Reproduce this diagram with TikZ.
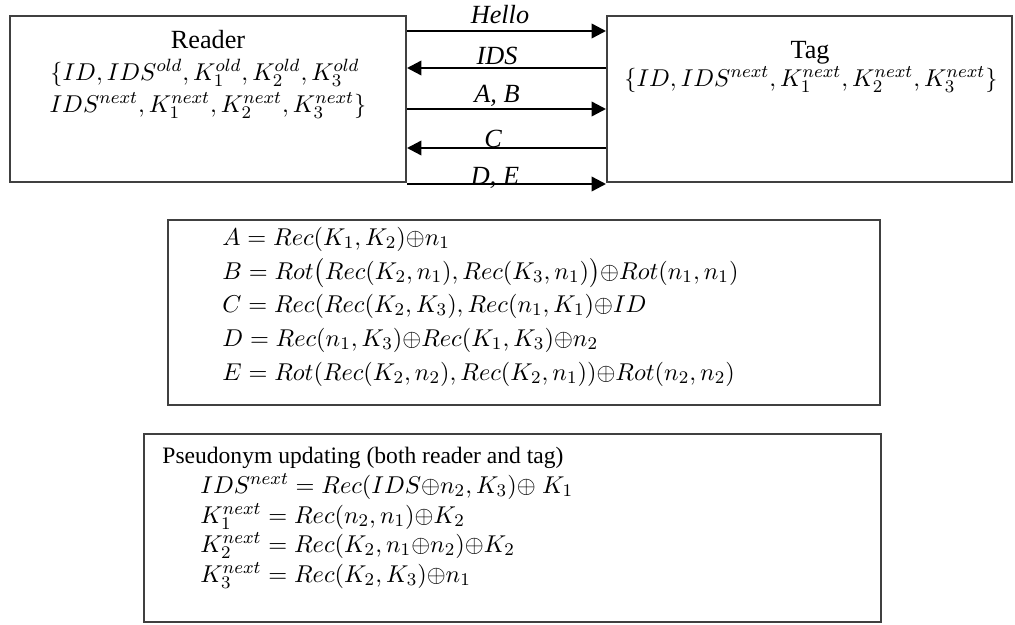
\documentclass[tikz,border=0pt]{standalone}
\usepackage{amsmath}
\usepackage{fontspec}
\setmainfont{Liberation Serif}
\usetikzlibrary{arrows.meta}
% tight exclusive-or, as typeset in the original equations
\newcommand{\xr}{{\oplus}}
\begin{document}
\begin{tikzpicture}[x=0.45pt,y=-0.45pt,
  frame/.style={draw=black!75,line width=0.9pt,rectangle,inner sep=0pt},
  msg/.style={line width=1.1pt,-{Triangle[length=6.5pt,width=6.5pt]}},
  lbl/.style={font=\fontsize{11.8}{14}\selectfont\itshape,inner sep=0pt,anchor=base},
  eq/.style={font=\fontsize{11.4}{14}\selectfont,anchor=base west,inner sep=0pt},
  hd/.style={font=\fontsize{11.8}{14}\selectfont,anchor=base,inner sep=0pt},
  st/.style={font=\fontsize{11.3}{14}\selectfont,anchor=base,inner sep=0pt},
  txt/.style={font=\fontsize{10.6}{13}\selectfont,anchor=base west,inner sep=0pt}]
\useasboundingbox (0,0) rectangle (1015,624);
% Reader and tag boxes
\node[frame,minimum width=396*0.45pt,minimum height=166*0.45pt] (reader) at (208,98.5) {};
\node[frame,minimum width=405*0.45pt,minimum height=166*0.45pt] (tag) at (809.5,98.5) {};
\node[hd] (rdtitle) at (208,48) {Reader};
\node[st] (rdset1) at (205,80) {$\{ID, IDS^{old}, K_1^{old}, K_2^{old}, K_3^{old}$};
\node[st] (rdset2) at (208,112) {$IDS^{next}, K_1^{next}, K_2^{next}, K_3^{next}\}$};
\node[hd] (tgtitle) at (810,58) {Tag};
\node[st] (tgset) at (811,86) {$\{ID, IDS^{next}, K_1^{next}, K_2^{next}, K_3^{next}\}$};
% message rows
\coordinate (m1) at (0,31);
\coordinate (m2) at (0,68);
\coordinate (m3) at (0,109);
\coordinate (m4) at (0,148);
\coordinate (m5) at (0,184);
\draw[msg] (reader.east |- m1) -- (tag.west |- m1);
\draw[msg] (tag.west |- m2) -- (reader.east |- m2);
\draw[msg] (reader.east |- m3) -- (tag.west |- m3);
\draw[msg] (tag.west |- m4) -- (reader.east |- m4);
\draw[msg] (reader.east |- m5) -- (tag.west |- m5);
\node[lbl] (l1) at (500,23) {Hello};
\node[lbl] (l2) at (497,64) {IDS};
\node[lbl] (l3) at (497,102) {A, B};
\node[lbl] (l4) at (493,147) {C};
\node[lbl] (l5) at (495,184) {D, E};
% message definitions
\node[frame,minimum width=712*0.45pt,minimum height=185*0.45pt] (defs) at (524,312.5) {};
\node[eq] (eA) at (222,245) {$A = Rec(K_1,K_2)\xr n_1$};
\node[eq] (eB) at (222,279) {$B = Rot\bigl(Rec(K_2,n_1),Rec(K_3,n_1)\bigr)\xr Rot(n_1,n_1)$};
\node[eq] (eC) at (222,312) {$C = Rec(Rec(K_2,K_3),Rec(n_1,K_1)\xr ID$};
\node[eq] (eD) at (222,346) {$D = Rec(n_1,K_3)\xr Rec(K_1,K_3)\xr n_2$};
\node[eq] (eE) at (222,380) {$E = Rot(Rec(K_2,n_2),Rec(K_2,n_1))\xr Rot(n_2,n_2)$};
% pseudonym update
\node[frame,minimum width=737*0.45pt,minimum height=188*0.45pt] (upd) at (512.5,528) {};
\node[txt] (uT) at (162,463) {Pseudonym updating (both reader and tag)};
\node[eq] (u1) at (200,493) {$IDS^{next} = Rec(IDS\xr n_2,K_3)\xr\ K_1$};
\node[eq] (u2) at (200,523) {$K_1^{next} = Rec(n_2,n_1)\xr K_2$};
\node[eq] (u3) at (200,552) {$K_2^{next} = Rec(K_2,n_1\xr n_2)\xr K_2$};
\node[eq] (u4) at (200,582) {$K_3^{next} = Rec(K_2,K_3)\xr n_1$};
\end{tikzpicture}
\end{document}
